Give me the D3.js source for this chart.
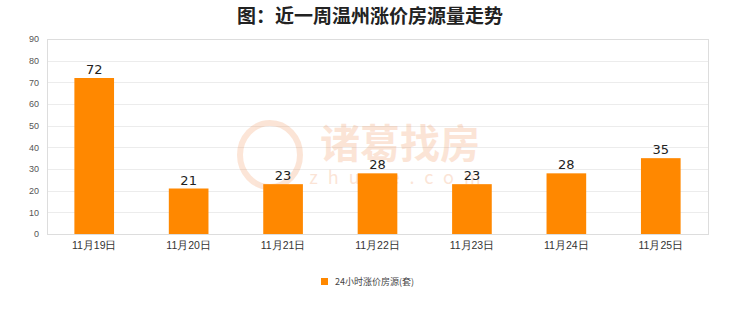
<!DOCTYPE html>
<html>
<head>
<meta charset="utf-8">
<script src="https://cdn.jsdelivr.net/npm/d3@7"></script>
<style>
  html, body { margin: 0; padding: 0; background: #fff; }
  svg { display: block; font-family: "Noto Sans CJK SC", "Noto Sans", sans-serif; }
</style>
</head>
<body>
<svg id="chart" width="740" height="312"></svg>
<script>
// Weekly count of listings with price increases in Wenzhou
const categories = ["11月19日", "11月20日", "11月21日", "11月22日", "11月23日", "11月24日", "11月25日"];
const values = [72, 21, 23, 28, 23, 28, 35];
const yTicks = [0, 10, 20, 30, 40, 50, 60, 70, 80, 90];
const seriesName = "24小时涨价房源(套)";
const titleText = "图：近一周温州涨价房源量走势";

const svg = d3.select("#chart");
const margin = { left: 47, right: 32, top: 39, bottom: 78 };
const W = 740, H = 312;
const x0 = margin.left, x1 = W - margin.right;
const y0 = H - margin.bottom, y1 = margin.top;

const x = d3.scaleBand().domain(categories).range([x0, x1]).paddingInner(0.58).paddingOuter(0.29);
const y = d3.scaleLinear().domain([0, 90]).range([y0, y1]);

// Title
svg.append("text")
  .attr("x", 370).attr("y", 23)
  .attr("text-anchor", "middle")
  .attr("font-size", 19).attr("font-weight", "bold")
  .attr("fill", "#222")
  .text(titleText);

// Gridlines
svg.append("g").selectAll("line").data(yTicks).join("line")
  .attr("x1", x0).attr("x2", x1)
  .attr("y1", d => Math.round(y(d)) + 0.5).attr("y2", d => Math.round(y(d)) + 0.5)
  .attr("stroke", "#ececec");

// Plot frame
svg.append("rect")
  .attr("x", x0 + 0.5).attr("y", y1 + 0.5)
  .attr("width", x1 - x0).attr("height", y0 - y1)
  .attr("fill", "none").attr("stroke", "#dddddd");

// Watermark
const wm = svg.append("g").attr("opacity", 0.22);
wm.append("text").attr("x", 400).attr("y", 158).attr("text-anchor", "middle")
  .attr("font-size", 40).attr("font-weight", "bold").attr("fill", "#f08a4b").text("诸葛找房");
wm.append("text").attr("x", 400).attr("y", 184).attr("text-anchor", "middle")
  .attr("font-size", 18).attr("letter-spacing", 10).attr("fill", "#f08a4b").text("zhuge.com");
wm.append("ellipse").attr("cx", 270).attr("cy", 155).attr("rx", 30).attr("ry", 32)
  .attr("fill", "none").attr("stroke", "#f08a4b").attr("stroke-width", 6);

// Y axis
const yAxis = d3.axisLeft(y).tickValues(yTicks).tickSize(0).tickPadding(8);
const gy = svg.append("g").attr("transform", `translate(${x0},0)`).call(yAxis);
gy.select(".domain").remove();
gy.selectAll("text").attr("font-size", 9).attr("fill", "#555").attr("font-family", "Liberation Sans, sans-serif");

// X axis
const xAxis = d3.axisBottom(x).tickSize(0).tickPadding(8);
const gx = svg.append("g").attr("transform", `translate(0,${y0})`).call(xAxis);
gx.select(".domain").remove();
gx.selectAll("text").attr("font-size", 10.5).attr("fill", "#333");

// Bars
svg.append("g").selectAll("rect").data(values).join("rect")
  .attr("x", (d, i) => x(categories[i]))
  .attr("y", d => y(d))
  .attr("width", x.bandwidth())
  .attr("height", d => y(0) - y(d))
  .attr("fill", "#ff8800");

// Value labels
svg.append("g").selectAll("text").data(values).join("text")
  .attr("x", (d, i) => x(categories[i]) + x.bandwidth() / 2)
  .attr("y", d => y(d) - 4)
  .attr("text-anchor", "middle")
  .attr("font-size", 13).attr("fill", "#222")
  .attr("font-family", "DejaVu Sans, sans-serif")
  .text(d => d);

// Legend
const lg = svg.append("g").attr("transform", "translate(321,278)");
lg.append("rect").attr("x", 0).attr("y", 0).attr("width", 7).attr("height", 7).attr("fill", "#ff8800");
lg.append("text").attr("x", 14).attr("y", 7).attr("font-size", 9).attr("fill", "#444").text(seriesName);
</script>
</body>
</html>
